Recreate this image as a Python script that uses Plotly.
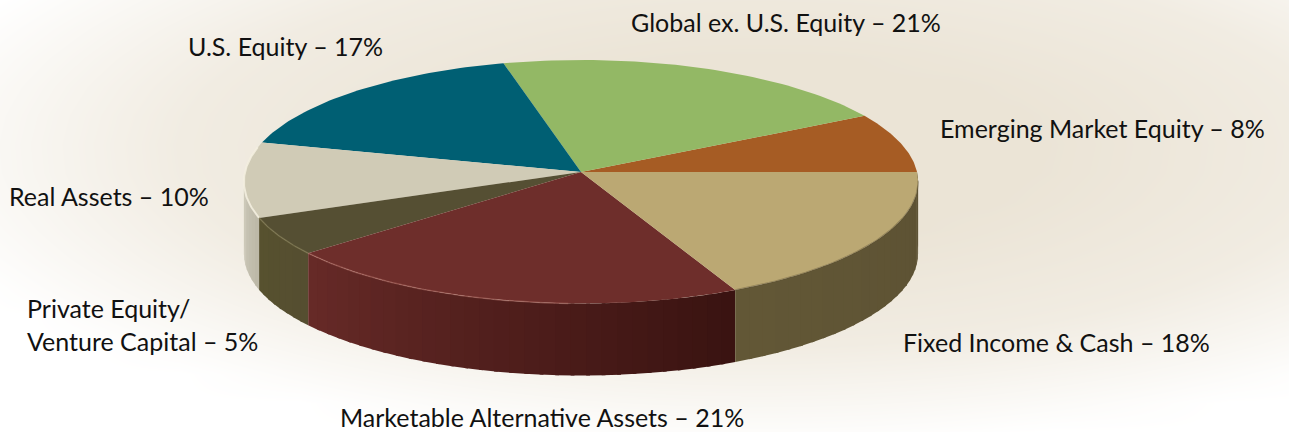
import numpy as np
import plotly.graph_objects as go

# ---------- data ----------
categories = ["Emerging Market Equity", "Global ex. U.S. Equity", "U.S. Equity", "Real Assets",
              "Private Equity/<br>Venture Capital", "Marketable Alternative Assets", "Fixed Income & Cash"]
values = [8, 21, 17, 10, 5, 21, 18]
top_colors = ["#a65c24", "#93b865", "#005f73", "#d0cbb6", "#554f33", "#6e2e2b", "#bba873"]
side_start = ["#a65c24", "#93b865", "#005f73", "#d3cfc0", "#57512f", "#662a27", "#625736"]
side_end = ["#a65c24", "#93b865", "#005f73", "#bdb9a8", "#554e30", "#3a1311", "#5c5133"]
label_x = [938, 629, 186, 7, 25, 338, 901]
label_y = [128, 22, 46, 196, 324, 417, 342]

# ---------- geometry (pixels) ----------
W, H = 1289, 432
CX, CY, RX, RY, DEPTH, PERSP = 581, 172, 336, 121, 72, 0.08
STEP = 2.5

def rgb(h):
    return np.array([int(h[i:i + 2], 16) for i in (1, 3, 5)], float)

def ell(a):
    a = np.radians(a)
    w = 1 + PERSP * np.sin(a)
    return CX + RX * np.cos(a) / w, CY - RY * np.sin(a) / w

fig = go.Figure()

# soft page background
gx = np.linspace(0, W, 44)
gy = np.linspace(0, H, 16)
xx, yy = np.meshgrid(gx, gy)
d = np.sqrt(((xx - 760) / 800) ** 2 + ((yy - 150) / 270) ** 2)
z = np.clip((d - 0.35) / 0.75, 0, 1)
fig.add_trace(go.Heatmap(x=gx, y=gy, z=z, zmin=0, zmax=1, zsmooth="best", showscale=False,
                         hoverinfo="skip", colorscale=[[0, "#ebe4d6"], [0.5, "#f1ece2"], [1, "#ffffff"]]))

edges = np.concatenate([[0], np.cumsum(values)]) * 3.6

# rim, visible lower half only
for i in range(len(values)):
    a0, a1 = max(edges[i], 180), edges[i + 1]
    if a1 <= a0:
        continue
    n = max(1, int(np.ceil((a1 - a0) / STEP)))
    bounds = np.linspace(a0, a1, n + 1)
    for j in range(n):
        t = j / max(1, n - 1)
        c = (1 - t) * rgb(side_start[i]) + t * rgb(side_end[i])
        col = f"rgb({c[0]:.0f},{c[1]:.0f},{c[2]:.0f})"
        seg = np.linspace(bounds[j], min(bounds[j + 1] + 0.6, a1), 4)
        x, y = ell(seg)
        px = np.concatenate([x, x[::-1], x[:1]])
        py = np.concatenate([y, y[::-1] + DEPTH, y[:1]])
        fig.add_trace(go.Scatter(x=px, y=py, mode="lines", fill="toself", fillcolor=col,
                                 line=dict(width=0), hoverinfo="skip", showlegend=False))

# top face
for i in range(len(values)):
    seg = np.linspace(edges[i], edges[i + 1], 60)
    x, y = ell(seg)
    fig.add_trace(go.Scatter(x=np.concatenate([[CX], x, [CX]]), y=np.concatenate([[CY], y, [CY]]),
                             mode="lines", fill="toself", fillcolor=top_colors[i],
                             line=dict(width=0), hoverinfo="skip", showlegend=False,
                             name=categories[i]))

# bevel highlight on the front edge
for a0, a1, col, wd in [(168, 201.6, "rgba(245,240,225,0.85)", 2),
                        (201.6, 219.6, "rgba(125,118,80,0.7)", 1.5),
                        (219.6, 268, "rgba(200,130,120,0.4)", 1.5),
                        (295.2, 356, "rgba(90,78,48,0.4)", 1.5)]:
    x, y = ell(np.linspace(a0, a1, 50))
    fig.add_trace(go.Scatter(x=x, y=y, mode="lines", line=dict(color=col, width=wd),
                             hoverinfo="skip", showlegend=False))

for c, v, lx, ly in zip(categories, values, label_x, label_y):
    fig.add_annotation(x=lx, y=ly, xref="x", yref="y", xanchor="left", yanchor="middle", align="left",
                       text=f"{c} – {v}%", showarrow=False,
                       font=dict(family="Lato", size=25, color="#111111"))

fig.update_layout(width=W, height=H, margin=dict(l=0, r=0, t=0, b=0), showlegend=False,
                  paper_bgcolor="#ffffff", plot_bgcolor="#ffffff",
                  xaxis=dict(range=[0, W], visible=False, fixedrange=True),
                  yaxis=dict(range=[H, 0], visible=False, fixedrange=True))
fig.write_html("out.html", config=dict(displayModeBar=False),
               post_script="document.body.style.margin='0';document.body.style.overflow='hidden';")
